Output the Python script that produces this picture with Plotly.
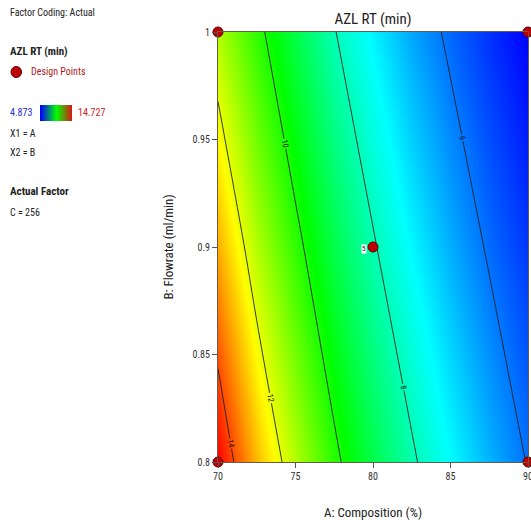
import plotly.graph_objects as go

# ---------------- data ----------------
A_composition = [70, 72.5, 75, 77.5, 80, 82.5, 85, 87.5, 90]
B_flowrate = [0.8, 0.9, 1.0]
rt_at_B080 = [14.73, 12.94, 11.50, 10.20, 9.09, 8.12, 7.32, 6.61, 5.96]
rt_at_B090 = [13.05, 11.51, 10.24, 9.09, 8.08, 7.27, 6.55, 5.91, 5.39]
rt_at_B100 = [11.50, 10.24, 9.08, 8.04, 7.22, 6.48, 5.85, 5.34, 4.87]
rt_min, rt_max = 4.873, 14.727
contour_start, contour_end, contour_step = 6, 14, 2

design_A = [70, 70, 90, 90, 80]
design_B = [0.8, 1.0, 1.0, 0.8, 0.9]
center_replicates = "5"

x_ticks = [70, 75, 80, 85, 90]
y_ticks = [0.8, 0.85, 0.9, 0.95, 1.0]
y_ticktext = ["0.8", "0.85", "0.9", "0.95", "1"]

# ---------------- layout helpers ----------------
W, H = 531, 527
FONT = "Liberation Sans Narrow, Roboto Condensed, Arial Narrow, Roboto, sans-serif"
px = lambda v: v / W
py = lambda v: 1 - v / H

z_grid = [rt_at_B080, rt_at_B090, rt_at_B100]
cscale = [[0, "#0000ff"], [0.25, "#00ffff"], [0.5, "#00ff00"], [0.75, "#ffff00"], [1, "#ff0000"]]

fig = go.Figure()

fig.add_trace(go.Heatmap(
    x=A_composition, y=B_flowrate, z=z_grid, zmin=rt_min, zmax=rt_max,
    colorscale=cscale, zsmooth="best", showscale=False, hoverinfo="skip"))

fig.add_trace(go.Contour(
    x=A_composition, y=B_flowrate, z=z_grid,
    contours=dict(coloring="none", start=contour_start, end=contour_end, size=contour_step,
                  showlabels=True, labelfont=dict(size=8, color="#111", family=FONT)),
    line=dict(color="#222", width=0.9), showscale=False, hoverinfo="skip"))

fig.add_trace(go.Scatter(
    x=design_A, y=design_B, mode="markers", cliponaxis=False,
    marker=dict(size=10, color="#c00000", line=dict(color="#5a0000", width=1)),
    hoverinfo="skip", showlegend=False))

# small gradient bar for the legend
fig.add_trace(go.Heatmap(
    z=[[0, 1]], x=[0, 1], y=[0], colorscale=[[0, "#0000ff"], [0.5, "#00ff00"], [1, "#e01010"]],
    zsmooth="best", showscale=False, xaxis="x2", yaxis="y2", hoverinfo="skip"))

axis_common = dict(showgrid=False, zeroline=False, ticks="outside", ticklen=5,
                   tickcolor="#555", linecolor="#6b5a48", linewidth=1, mirror=True,
                   ticklabeloverflow="allow",
                   tickfont=dict(family=FONT, size=10, color="#333"))

fig.update_layout(
    width=W, height=H, autosize=False,
    margin=dict(l=0, r=0, t=0, b=0),
    paper_bgcolor="white", plot_bgcolor="white",
    showlegend=False,
    font=dict(family=FONT, color="#222"),
    title=dict(text="AZL RT (min)", x=px(373), y=py(19), xanchor="center", yanchor="middle",
               font=dict(family=FONT, size=15, color="#222")),
    xaxis=dict(domain=[px(218), px(528)], range=[70, 90], tickvals=x_ticks,
               title=dict(text="A: Composition (%)", font=dict(family=FONT, size=13, color="#222"), standoff=26),
               automargin=False, **axis_common),
    yaxis=dict(domain=[py(462), py(32)], range=[0.8, 1.0], tickvals=y_ticks, ticktext=y_ticktext,
               title=dict(text="B: Flowrate (ml/min)", font=dict(family=FONT, size=13, color="#222"), standoff=15),
               automargin=False, **axis_common),
    xaxis2=dict(domain=[px(40), px(72)], visible=False, range=[0, 1], anchor="y2"),
    yaxis2=dict(domain=[py(121), py(105)], visible=False, anchor="x2"),
)

def ann(text, x, y, size=10, color="#222", bold=False, xanchor="left"):
    fig.add_annotation(text=f"<b>{text}</b>" if bold else text, x=px(x), y=py(y),
                       xref="paper", yref="paper", xanchor=xanchor, yanchor="middle",
                       showarrow=False, font=dict(family=FONT, size=size, color=color))

ann("Factor Coding: Actual", 8, 12)
ann("AZL RT (min)", 8, 52, size=11, bold=True)
ann("Design Points", 29, 72, color="#b01818")
ann("4.873", 8, 113, color="#2a2ad0")
ann("14.727", 76, 113, color="#d02020")
ann("X1 = A", 8, 133)
ann("X2 = B", 8, 153)
ann("Actual Factor", 8, 192, size=11, bold=True)
ann("C = 256", 8, 212)

fig.add_shape(type="circle", xref="paper", yref="paper",
              x0=px(11), x1=px(21.5), y0=py(77.5), y1=py(66.5),
              fillcolor="#c00000", line=dict(color="#5a0000", width=1))

fig.add_annotation(x=design_A[4], y=design_B[4], text=center_replicates, showarrow=False,
                   xshift=-9, yshift=-2, font=dict(family=FONT, size=7, color="#111"),
                   bgcolor="white", borderpad=0)

fig.write_html("out.html", config=dict(displayModeBar=False),
               post_script="document.body.style.margin='0px';document.body.style.overflow='hidden';")
